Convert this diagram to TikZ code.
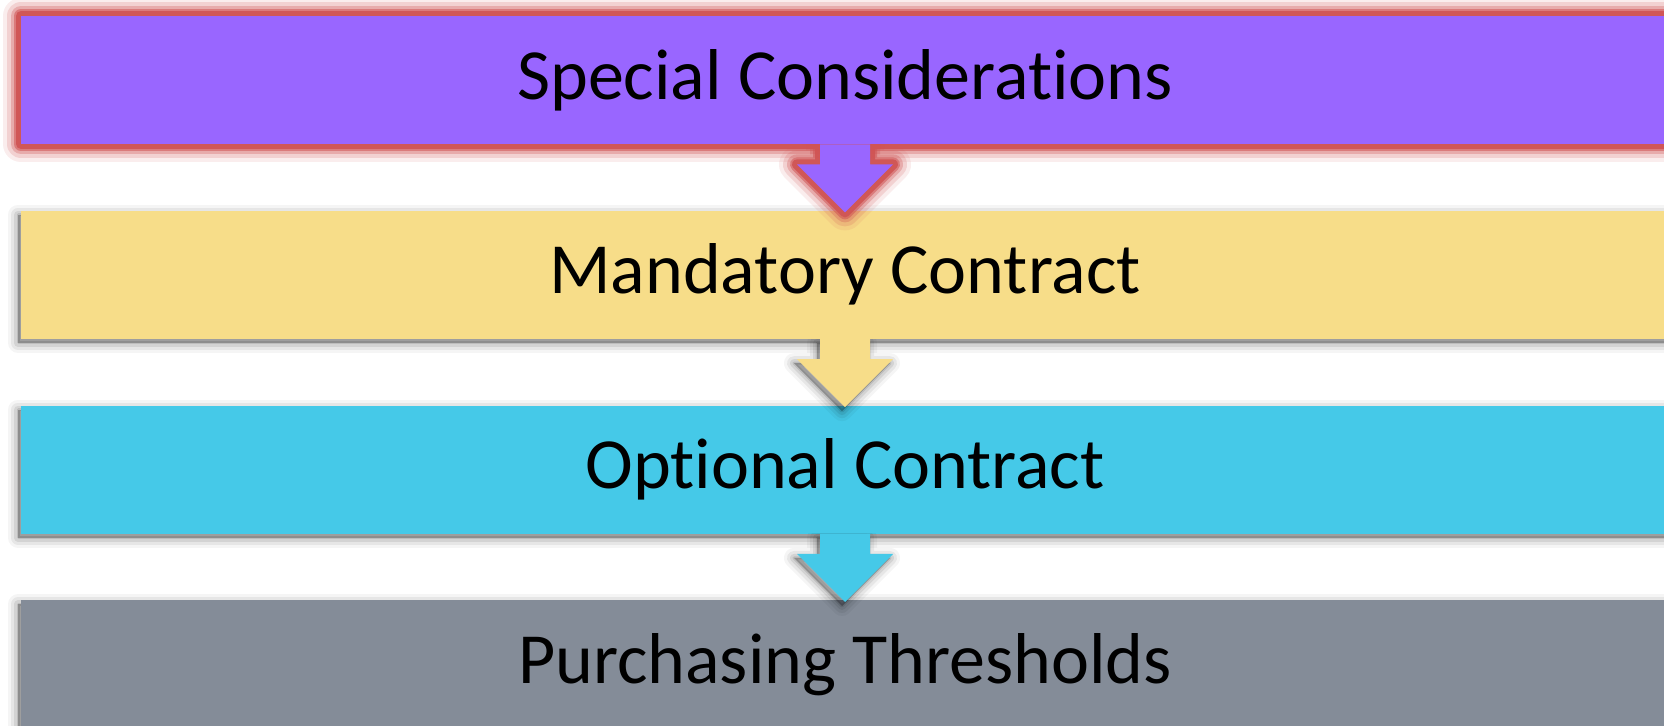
\documentclass[tikz,border=0pt]{standalone}
\usepackage{fontspec}
\setmainfont[Ligatures=NoCommon]{Carlito}
\usetikzlibrary{positioning,calc}

\definecolor{considerfill}{RGB}{153,102,255}
\definecolor{mandatoryfill}{RGB}{247,221,137}
\definecolor{optionalfill}{RGB}{69,201,232}
\definecolor{thresholdfill}{RGB}{132,140,152}
\definecolor{glowred}{RGB}{208,84,84}

\tikzset{
  stage/.style={rectangle, minimum width=824pt, minimum height=64pt, inner sep=0pt,
    text=black, font=\fontsize{36}{43}\selectfont},
  % soft shadow, down and to the left
  shadelayer/.style 2 args={preaction={draw=black, fill=black, line width=#1,
    draw opacity=#2, fill opacity=#2, line join=round,
    transform canvas={shift={(-1.5pt,-2pt)}}}},
  softshadow/.style={shadelayer={10pt}{0.04}, shadelayer={7pt}{0.06},
    shadelayer={4pt}{0.08}, shadelayer={1.5pt}{0.1}},
  % red glow on every side
  glowlayer/.style 2 args={preaction={draw=glowred, line width=#1,
    draw opacity=#2, line join=round}},
  redglow/.style={glowlayer={18pt}{0.1}, glowlayer={14pt}{0.18},
    glowlayer={10pt}{0.3}, glowlayer={7pt}{0.55}, glowlayer={5pt}{0.9}},
  blockarrow/.style={insert path={
    ($(#1.south)+(-12.5pt,0)$) -- ($(#1.south)+(-12.5pt,-10pt)$)
    -- ($(#1.south)+(-24pt,-10pt)$) -- ($(#1.south)+(0,-34pt)$)
    -- ($(#1.south)+(24pt,-10pt)$) -- ($(#1.south)+(12.5pt,-10pt)$)
    -- ($(#1.south)+(12.5pt,0)$) -- cycle}},
}

\begin{document}
\begin{tikzpicture}
    \fill[white] (0,0) rectangle (832pt,363pt);
    \useasboundingbox (0,0) rectangle (832pt,363pt);

    % The four stages, top to bottom
    \node[stage, fill=considerfill, redglow] (consider) at (422.5pt,323pt) {Special Considerations};
    \node[stage, fill=mandatoryfill, softshadow, below=33pt of consider] (mandatory) {Mandatory Contract};
    \node[stage, fill=optionalfill, softshadow, below=33pt of mandatory] (optional) {Optional Contract};
    \node[stage, fill=thresholdfill, softshadow, below=33pt of optional] (threshold) {Purchasing Thresholds};

    % Arrows between the stages
    \begin{scope}
        \clip (consider.south west) rectangle (mandatory.south east);
        \fill[considerfill, redglow] [blockarrow=consider];
    \end{scope}
    \begin{scope}
        \clip (mandatory.south west) rectangle (optional.south east);
        \fill[mandatoryfill, softshadow] [blockarrow=mandatory];
    \end{scope}
    \begin{scope}
        \clip (optional.south west) rectangle (threshold.south east);
        \fill[optionalfill, softshadow] [blockarrow=optional];
    \end{scope}

\end{tikzpicture}
\end{document}
